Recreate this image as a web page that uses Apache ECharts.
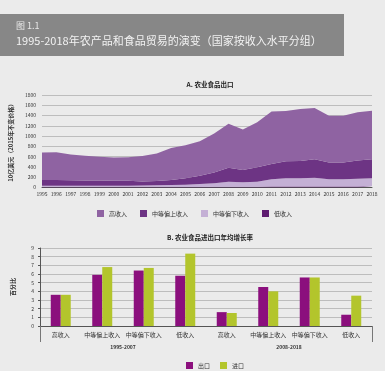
<!DOCTYPE html>
<html><head><meta charset="utf-8">
<script src="https://cdn.jsdelivr.net/npm/echarts@6/dist/echarts.min.js"></script>
<style>html,body{margin:0;padding:0;background:#ebebeb;}#c{width:385px;height:371px;}</style>
</head><body><div id="c"></div>
<script>
const years = ['1995','1996','1997','1998','1999','2000','2001','2002','2003','2004','2005','2006','2007','2008','2009','2010','2011','2012','2013','2014','2015','2016','2017','2018'];
const lowIncome   = [8,8,8,8,8,8,8,8,9,10,11,12,13,15,15,16,18,20,20,21,20,20,21,22];
const lowerMiddle = [27,27,27,27,27,27,27,30,33,38,44,56,68,97,86,96,141,158,158,169,139,139,151,156];
const upperMiddle = [110,110,105,103,100,95,95,80,83,97,125,161,213,272,238,283,296,332,337,360,329,329,355,374];
const highIncome  = [535,540,500,482,465,455,460,495,535,625,640,671,756,856,791,875,1025,980,1015,995,907,907,938,943];
const yTicksA = [0,1800,200];

const groupCats = ['高收入','中等偏上收入','中等偏下收入','低收入','高收入','中等偏上收入','中等偏下收入','低收入'];
const periods = ['1995-2007','2008-2018'];
const exportGrowth = [3.6,5.9,6.4,5.8,1.6,4.5,5.6,1.3];
const importGrowth = [3.6,6.8,6.7,8.35,1.5,4.0,5.6,3.5];

const FONT = '"Noto Sans CJK SC", sans-serif';
const C_HIGH = '#8f63a2', C_UM = '#6d3484', C_LM = '#c4b0d5', C_LOW = '#5e1b70';
const C_EXP = '#8b0f7d', C_IMP = '#b3c52c';

const chart = echarts.init(document.getElementById('c'), null, {renderer:'canvas'});
const axisLab = {fontSize:5, color:'#333', fontFamily:FONT};
const areaSeries = (name, data, color) => ({
  name, type:'line', stack:'a', data, xAxisIndex:0, yAxisIndex:0,
  symbol:'none', lineStyle:{width:0}, areaStyle:{color, opacity:1}, itemStyle:{color}, z:2
});
chart.setOption({
  backgroundColor:'#ebebeb',
  animation:false,
  textStyle:{fontFamily:FONT},
  graphic:[
    {type:'rect', left:0, top:14, shape:{width:344, height:42}, style:{fill:'#878787'}},
    {type:'text', left:16, top:21, style:{text:'图 1.1', fill:'#e8e8e8', font:'9px '+FONT}},
    {type:'text', left:16, top:35, style:{text:'1995-2018年农产品和食品贸易的演变（国家按收入水平分组）', fill:'#f2f2f2', font:'11px '+FONT}}
  ],
  title:[
    {text:'A. 农业食品出口', left:205, top:76, textAlign:'center', textStyle:{fontSize:6.5, fontWeight:'bold', color:'#222', fontFamily:FONT}},
    {text:'B. 农业食品进出口年均增长率', left:205, top:229, textAlign:'center', textStyle:{fontSize:6.5, fontWeight:'bold', color:'#222', fontFamily:FONT}}
  ],
  legend:[
    {data:['高收入','中等偏上收入','中等偏下收入','低收入'], top:205, left:92, itemWidth:7, itemHeight:7, itemGap:13,
     icon:'rect', textStyle:{fontSize:6, color:'#333', fontFamily:FONT}},
    {data:['出口','进口'], top:357, left:181, itemWidth:7, itemHeight:7, itemGap:10,
     icon:'rect', textStyle:{fontSize:6, color:'#333', fontFamily:FONT}}
  ],
  grid:[
    {left:41, right:13, top:95, height:92.5},
    {left:40, right:13, top:248, height:78}
  ],
  xAxis:[
    {type:'category', gridIndex:0, data:years, boundaryGap:false,
     axisLine:{lineStyle:{color:'#555', width:1}}, axisTick:{show:false},
     axisLabel:Object.assign({interval:0, margin:4}, axisLab)},
    {type:'category', gridIndex:1, data:groupCats,
     axisLine:{lineStyle:{color:'#555', width:1}}, axisTick:{show:false},
     axisLabel:Object.assign({interval:0, margin:6}, axisLab, {fontSize:6})},
    {type:'category', gridIndex:1, data:periods, position:'bottom',
     axisLine:{show:false}, axisTick:{show:true, length:16, interval:(i)=>i===1, lineStyle:{color:'#777'}},
     axisLabel:{margin:19, fontSize:5, fontWeight:'bold', color:'#333', fontFamily:FONT}}
  ],
  yAxis:[
    {type:'value', gridIndex:0, min:yTicksA[0], max:yTicksA[1], interval:yTicksA[2],
     name:'10亿美元（2015年不变价格）', nameLocation:'middle', nameGap:24, nameRotate:90,
     nameTextStyle:{fontSize:6, color:'#333', fontFamily:FONT, fontWeight:'bold'},
     axisLine:{show:false}, axisTick:{show:false},
     splitLine:{lineStyle:{color:'#bdbdbd', width:1}},
     axisLabel:Object.assign({margin:6, formatter:(v)=>String(v)}, axisLab)},
    {type:'value', gridIndex:1, min:0, max:9, interval:1,
     name:'百分比', nameLocation:'middle', nameGap:24, nameRotate:90,
     nameTextStyle:{fontSize:6, color:'#333', fontFamily:FONT, fontWeight:'bold'},
     axisLine:{show:true, lineStyle:{color:'#555'}}, axisTick:{show:true, length:2, lineStyle:{color:'#555'}},
     splitLine:{lineStyle:{color:'#bdbdbd', width:1}},
     axisLabel:Object.assign({margin:6}, axisLab)}
  ],
  series:[
    areaSeries('低收入', lowIncome, C_LOW),
    areaSeries('中等偏下收入', lowerMiddle, C_LM),
    areaSeries('中等偏上收入', upperMiddle, C_UM),
    areaSeries('高收入', highIncome, C_HIGH),
    {name:'出口', type:'bar', xAxisIndex:1, yAxisIndex:1, data:exportGrowth, barWidth:10, barGap:'0%', itemStyle:{color:C_EXP}},
    {name:'进口', type:'bar', xAxisIndex:1, yAxisIndex:1, data:importGrowth, barWidth:10, barGap:'0%', itemStyle:{color:C_IMP}}
  ]
});
</script></body></html>
